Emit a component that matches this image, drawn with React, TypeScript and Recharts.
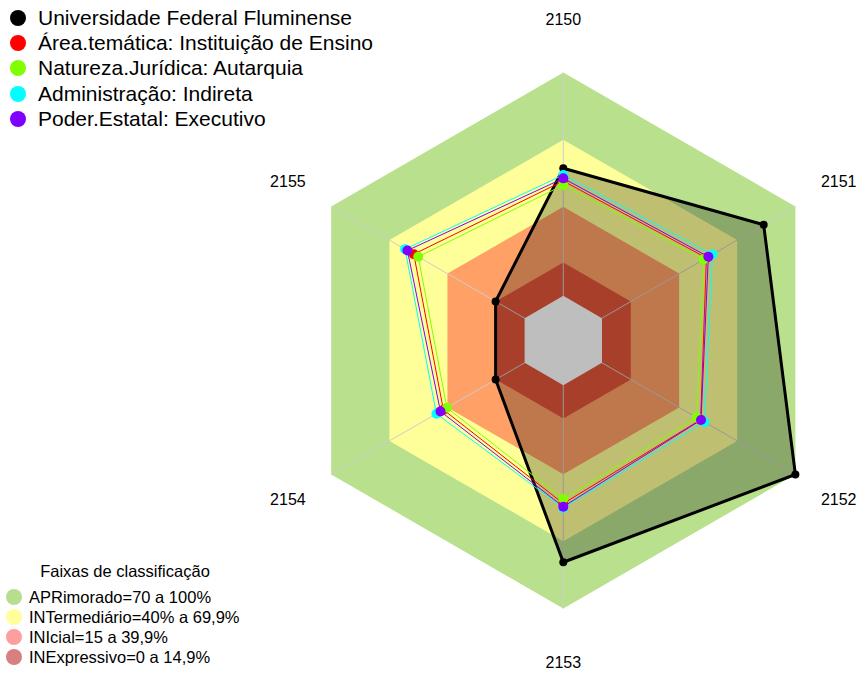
import React from "react";
import {
  RadarChart,
  Radar,
  PolarAngleAxis,
  PolarRadiusAxis,
} from "recharts";

// eixos (anos)
const AXES = ["2150", "2151", "2152", "2153", "2154", "2155"];

// séries
const UFF = [57.1, 83.6, 100, 79.3, 15, 15];
const AREA_TEMATICA = [51.4, 54, 51, 53, 42, 57.3];
const NATUREZA = [49.6, 52.5, 49, 51, 40.2, 55];
const ADMINISTRACAO = [54.1, 57.1, 53, 55, 45.6, 61.8];
const PODER = [52.6, 55, 51.2, 54.4, 43.5, 60.6];

// faixas de classificação (limite superior de cada faixa)
const FAIXA_APR = 100;
const FAIXA_INT = 69.9;
const FAIXA_INI = 39.9;
const FAIXA_INE = 14.9;
const FAIXA_BASE = 0;

const CX = 563.3;
const CY = 340.5;
const OUTER = 268;

const data = AXES.map((ano, i) => ({
  ano,
  apr: FAIXA_APR,
  int: FAIXA_INT,
  ini: FAIXA_INI,
  ine: FAIXA_INE,
  base: FAIXA_BASE,
  uff: UFF[i],
  area: AREA_TEMATICA[i],
  natureza: NATUREZA[i],
  admin: ADMINISTRACAO[i],
  poder: PODER[i],
}));

const SERIES = [
  { key: "area", name: "Área.temática: Instituição de Ensino", color: "#FF0000" },
  { key: "natureza", name: "Natureza.Jurídica: Autarquia", color: "#80FF00" },
  { key: "admin", name: "Administração: Indireta", color: "#00FFFF" },
  { key: "poder", name: "Poder.Estatal: Executivo", color: "#8000FF" },
];

const LEGEND_TOP = [
  { name: "Universidade Federal Fluminense", color: "#000000" },
  ...SERIES.map((s) => ({ name: s.name, color: s.color })),
];

const LEGEND_FAIXAS = [
  { name: "APRimorado=70 a 100%", color: "#B6DE8E" },
  { name: "INTermediário=40% a 69,9%", color: "#FFFF9C" },
  { name: "INIcial=15 a 39,9%", color: "#FF9E9E" },
  { name: "INExpressivo=0 a 14,9%", color: "#D88080" },
];

const FONT = "'Liberation Sans', Arial, sans-serif";

function AngleTick(props: any) {
  const { x, y, payload } = props;
  const dx = x - CX;
  const dy = y - CY;
  const len = Math.sqrt(dx * dx + dy * dy) || 1;
  const r = Math.abs(dx) < 1 ? 321.5 : 318;
  return (
    <text
      x={CX + (dx / len) * r}
      y={CY + (dy / len) * r}
      textAnchor="middle"
      dominantBaseline="central"
      fontSize={16}
      fontFamily={FONT}
      fill="#000"
    >
      {payload.value}
    </text>
  );
}

// raios do gráfico, desenhados por cima das faixas
function Spokes(props: any) {
  const pts = props.points || [];
  return (
    <g>
      {pts.map((p: any, i: number) => (
        <line
          key={i}
          x1={p.cx ?? CX}
          y1={p.cy ?? CY}
          x2={p.x}
          y2={p.y}
          stroke="#cdcdcd"
          strokeWidth={1}
        />
      ))}
    </g>
  );
}

export default function App() {
  return (
    <div
      style={{
        position: "absolute",
        left: 0,
        top: 0,
        width: 863,
        height: 673,
        background: "#fff",
        fontFamily: FONT,
      }}
    >
      <RadarChart
        width={863}
        height={673}
        cx={CX}
        cy={CY}
        outerRadius={OUTER}
        data={data}
        margin={{ top: 0, right: 0, bottom: 0, left: 0 }}
      >
        <PolarRadiusAxis domain={[-20, 100]} tick={false} axisLine={false} />
        <PolarAngleAxis
          dataKey="ano"
          tick={<AngleTick />}
          tickLine={false}
          axisLine={false}
        />
        <Radar dataKey="apr" fill="#B9E08C" fillOpacity={1} stroke="none" isAnimationActive={false} />
        <Radar dataKey="int" fill="#FFFF99" fillOpacity={1} stroke="none" isAnimationActive={false} />
        <Radar dataKey="ini" fill="#FFA066" fillOpacity={1} stroke="none" isAnimationActive={false} />
        <Radar dataKey="ine" fill="#E0553A" fillOpacity={1} stroke="none" isAnimationActive={false} />
        <Radar dataKey="apr" shape={<Spokes />} isAnimationActive={false} />
        <Radar
          dataKey="uff"
          fill="#000000"
          fillOpacity={0.25}
          stroke="#000000"
          strokeWidth={3}
          dot={{ r: 4, fill: "#000000", fillOpacity: 1, stroke: "none" }}
          isAnimationActive={false}
        />
        <Radar dataKey="base" fill="#BEBEBE" fillOpacity={1} stroke="none" isAnimationActive={false} />
        {SERIES.map((s) => (
          <Radar
            key={s.key}
            dataKey={s.key}
            fill="none"
            fillOpacity={0}
            stroke={s.color}
            strokeWidth={1}
            dot={{ r: 5, fill: s.color, fillOpacity: 1, stroke: "none" }}
            isAnimationActive={false}
          />
        ))}
      </RadarChart>

      <div style={{ position: "absolute", left: 10, top: 5 }}>
        {LEGEND_TOP.map((item) => (
          <div
            key={item.name}
            style={{
              display: "flex",
              alignItems: "center",
              height: 25.4,
              fontSize: 21,
              color: "#000",
              whiteSpace: "nowrap",
            }}
          >
            <span
              style={{
                display: "inline-block",
                width: 16,
                height: 16,
                borderRadius: "50%",
                background: item.color,
                marginRight: 12,
                flexShrink: 0,
              }}
            />
            {item.name}
          </div>
        ))}
      </div>

      <div style={{ position: "absolute", left: 6, top: 560 }}>
        <div
          style={{
            fontSize: 16.5,
            width: 238,
            textAlign: "center",
            height: 27,
            lineHeight: "22px",
          }}
        >
          Faixas de classificação
        </div>
        {LEGEND_FAIXAS.map((item) => (
          <div
            key={item.name}
            style={{
              display: "flex",
              alignItems: "center",
              height: 20,
              fontSize: 16.5,
              color: "#000",
              whiteSpace: "nowrap",
            }}
          >
            <span
              style={{
                display: "inline-block",
                width: 16,
                height: 16,
                borderRadius: "50%",
                background: item.color,
                marginRight: 7,
                flexShrink: 0,
              }}
            />
            {item.name}
          </div>
        ))}
      </div>
    </div>
  );
}
